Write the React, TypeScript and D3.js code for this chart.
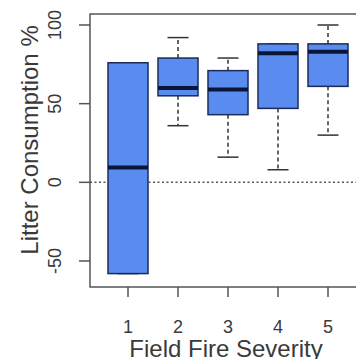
import React from "react";
import { scaleLinear } from "d3";

// box summary per field fire severity class
const severity = [1, 2, 3, 4, 5];
const whiskerLow = [-58, 36, 16, 8, 30];
const q1 = [-58, 55, 43, 47, 61];
const median = [9.5, 60, 59, 82, 83];
const q3 = [76, 79, 71, 88, 88];
const whiskerHigh = [76, 92, 79, 88, 100];
const yTicks = [-50, 0, 50, 100];

export default function App() {
  const width = 356;
  const height = 359;
  const plot = { left: 90, top: 14, right: 372, bottom: 287 };

  const xScale = scaleLinear().domain([1, 5]).range([128, 328]);
  const yScale = scaleLinear().domain([-50, 100]).range([261, 25]);

  const boxW = 40;
  const capW = 21;
  const font = "Liberation Sans, Arial, sans-serif";
  const textColor = "#3a3a3a";

  return (
    <svg
      width={width}
      height={height}
      style={{ position: "absolute", left: 0, top: 0, background: "#fff" }}
    >
      {/* zero reference line */}
      <line
        x1={plot.left}
        x2={width}
        y1={yScale(0)}
        y2={yScale(0)}
        stroke="#555"
        strokeWidth={1.5}
        strokeDasharray="2 2.5"
      />

      {/* boxes */}
      {severity.map((s, i) => {
        const cx = xScale(s);
        return (
          <g key={s}>
            {/* whiskers */}
            <line
              x1={cx}
              x2={cx}
              y1={yScale(q3[i])}
              y2={yScale(whiskerHigh[i])}
              stroke="#333"
              strokeWidth={1.5}
              strokeDasharray="4 3"
            />
            <line
              x1={cx}
              x2={cx}
              y1={yScale(q1[i])}
              y2={yScale(whiskerLow[i])}
              stroke="#333"
              strokeWidth={1.5}
              strokeDasharray="4 3"
            />
            <line
              x1={cx - capW / 2}
              x2={cx + capW / 2}
              y1={yScale(whiskerHigh[i])}
              y2={yScale(whiskerHigh[i])}
              stroke="#333"
              strokeWidth={1.5}
            />
            <line
              x1={cx - capW / 2}
              x2={cx + capW / 2}
              y1={yScale(whiskerLow[i])}
              y2={yScale(whiskerLow[i])}
              stroke="#333"
              strokeWidth={1.5}
            />
            <rect
              x={cx - boxW / 2}
              y={yScale(q3[i])}
              width={boxW}
              height={yScale(q1[i]) - yScale(q3[i])}
              fill="#5a8cef"
              stroke="#1c2b5c"
              strokeWidth={1.5}
            />
            <line
              x1={cx - boxW / 2}
              x2={cx + boxW / 2}
              y1={yScale(median[i])}
              y2={yScale(median[i])}
              stroke="#0a1638"
              strokeWidth={4}
            />
          </g>
        );
      })}

      {/* plot frame */}
      <rect
        x={plot.left}
        y={plot.top}
        width={plot.right - plot.left}
        height={plot.bottom - plot.top}
        fill="none"
        stroke="#555"
        strokeWidth={1.5}
      />

      {/* y axis */}
      {yTicks.map((t) => (
        <g key={t}>
          <line x1={79} x2={plot.left} y1={yScale(t)} y2={yScale(t)} stroke="#555" strokeWidth={1.5} />
          <text
            transform={`translate(61,${yScale(t)}) rotate(-90)`}
            textAnchor="middle"
            fontFamily={font}
            fontSize={18}
            fill={textColor}
          >
            {t}
          </text>
        </g>
      ))}
      <text
        transform={`translate(38,${(yScale(-50) + yScale(100)) / 2 - 3}) rotate(-90)`}
        textAnchor="middle"
        fontFamily={font}
        fontSize={24}
        fill={textColor}
      >
        Litter Consumption %
      </text>

      {/* x axis */}
      {severity.map((s) => (
        <g key={s}>
          <line x1={xScale(s)} x2={xScale(s)} y1={plot.bottom} y2={297} stroke="#555" strokeWidth={1.5} />
          <text
            x={xScale(s)}
            y={333}
            textAnchor="middle"
            fontFamily={font}
            fontSize={18}
            fill={textColor}
          >
            {s}
          </text>
        </g>
      ))}
      <text
        x={226}
        y={357}
        textAnchor="middle"
        fontFamily={font}
        fontSize={24}
        fill={textColor}
      >
        Field Fire Severity
      </text>
    </svg>
  );
}
